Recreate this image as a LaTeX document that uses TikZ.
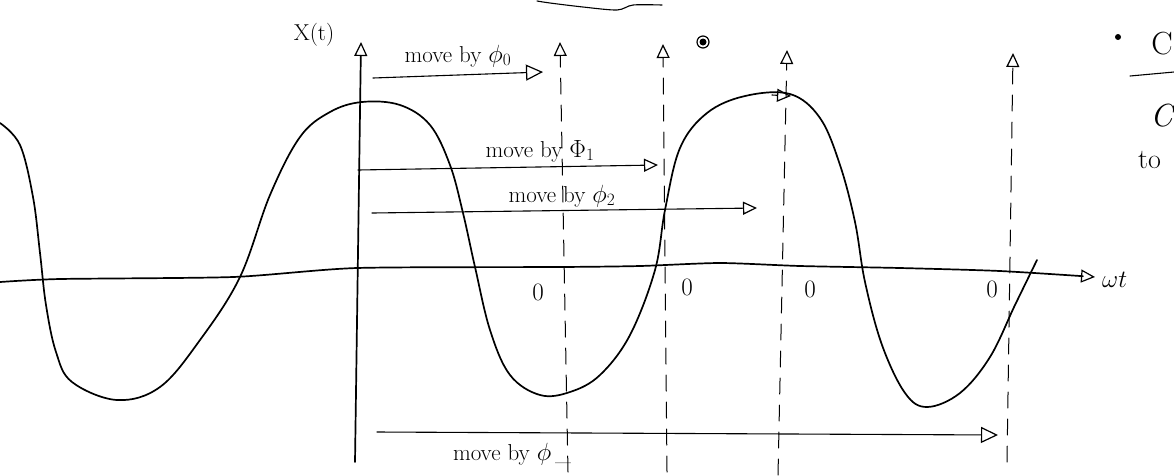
\documentclass[tikz,border=0pt]{standalone}
\usetikzlibrary{arrows.meta}
\begin{document}
\begin{tikzpicture}[x=1pt,y=-1pt,
  ink/.style={line width=1.7pt, line cap=round, line join=round},
  thinink/.style={line width=1.1pt, line cap=round, line join=round},
  guide/.style={line width=1pt, dash pattern=on 16pt off 11pt, line cap=round},
  opentip/.style={-{Triangle[open,length=14pt,width=13pt,line width=1.2pt]}},
  bigtip/.style={-{Triangle[open,length=17pt,width=16pt,line width=1.2pt]}},
  lbl/.style={font=\fontsize{23}{27}\selectfont, inner sep=0pt},
  zero/.style={font=\fontsize{25}{29}\selectfont, inner sep=0pt},
  big/.style={font=\fontsize{32}{36}\selectfont, inner sep=0pt}]
\useasboundingbox (0,0) rectangle (1174,475);
\clip (0,0) rectangle (1174,475);

% vertical axis
\coordinate (yb) at (355,462);
\coordinate (yt) at (361,42);
\draw[ink,opentip] (yb) -- (yt);
\node[lbl] (xt) at (314,35) {X(t)};

% horizontal axis
\draw[ink,opentip] plot[smooth,tension=0.4] coordinates {(0,282) (60,279) (233,277) (357,268) (560,267) (640,266) (720,263) (800,266) (900,268) (1000,271) (1095,277)};
\node[big,anchor=west] (wt) at (1102,280) {$\omega t$};

% wave
\draw[ink] plot[smooth,tension=0.6] coordinates {(0,123) (20,145) (33,197) (40,253) (46,305) (56,352) (72,382) (117,400) (160,387) (200,340) (240,277) (270,195) (300,137) (330,112) (362,102) (400,105) (430,125) (450,165) (463,213) (475,267) (490,330) (510,375) (540,395) (570,392) (600,375) (630,335) (655,270) (665,210) (680,148) (707,113) (745,96) (790,94) (820,118) (840,165) (855,222) (865,282) (882,345) (905,393) (927,407) (960,393) (990,357) (1015,305) (1037,260)};

% vertical dashed guides with arrows
\coordinate (a0) at (568,472); \coordinate (a1) at (560,42);
\coordinate (b0) at (667,472); \coordinate (b1) at (663,44);
\coordinate (c0) at (778,475); \coordinate (c1) at (787,50);
\coordinate (d0) at (1007,462); \coordinate (d1) at (1013,53);
\draw[guide,opentip] (a0) -- (a1);
\draw[guide,opentip] (b0) -- (b1);
\draw[guide,opentip] (c0) -- (c1);
\draw[guide,opentip] (d0) -- (d1);

% horizontal shift arrows
\coordinate (h0s) at (373,78);  \coordinate (h0e) at (543,72);
\coordinate (h1s) at (358,170); \coordinate (h1e) at (658,165);
\coordinate (h2s) at (372,213); \coordinate (h2e) at (757,208);
\coordinate (h3s) at (377,432); \coordinate (h3e) at (998,435);
\draw[thinink,bigtip] (h0s) -- (h0e);
\draw[thinink,opentip] (h1s) -- (h1e);
\draw[thinink,opentip] (h2s) -- (h2e);
\draw[thinink,bigtip] (h3s) -- (h3e);
\node[lbl] (m0) at (458,56) {move by $\phi_0$};
\node[lbl] (m1) at (540,151) {move by $\Phi_1$};
\node[lbl] (m2) at (562,196) {move by $\phi_2$};
\node[lbl] (m3) at (512,454) {move by $\phi$\,\_};

% small arrow at the crest
\coordinate (k0) at (772,95); \coordinate (k1) at (791,96);
\draw[thinink,opentip] (k0) -- (k1);

% zeros
\node[zero] (z1) at (538,292) {0};
\node[zero] (z2) at (687,287) {0};
\node[zero] (z3) at (810,289) {0};
\node[zero] (z4) at (992,289) {0};

% dot marker
\draw[line width=1.2pt] (703,42) circle (6);
\fill (703,42) circle (3.5);

% top wavy underline
\draw[thinink] plot[smooth] coordinates {(537,1) (550,3) (583,7) (617,10) (633,5) (662,5)};

% right margin text
\fill (1118,37) circle (3);
\node[big,anchor=east] (cA) at (1173,44) {C};
\draw[thinink] (1130,76) -- (1174,72);
\node[big,anchor=east] (cB) at (1173,116) {\itshape C};
\node[font=\fontsize{28}{32}\selectfont,inner sep=0pt,anchor=west] (to) at (1138,160) {to};
\end{tikzpicture}
\end{document}
